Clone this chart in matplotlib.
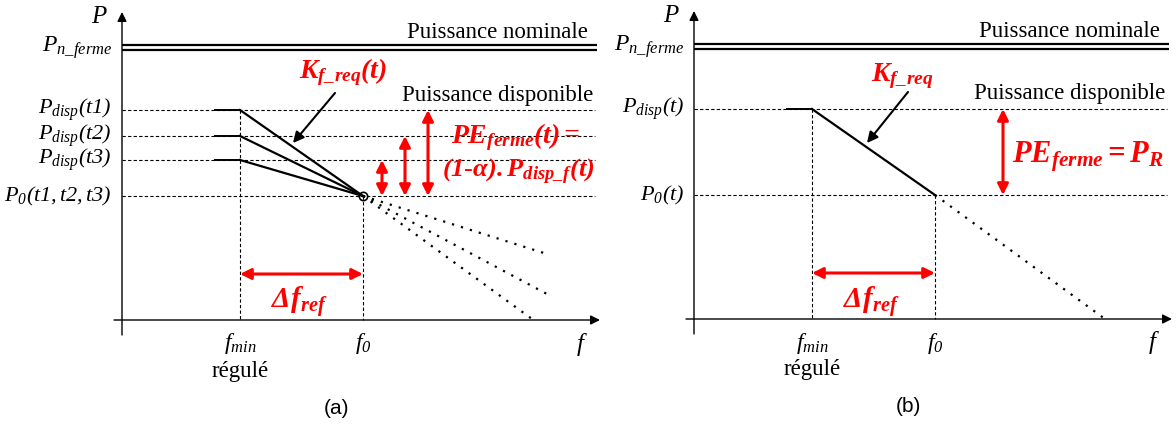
import matplotlib
matplotlib.use("Agg")
import matplotlib.pyplot as plt

plt.rcParams['font.family'] = ['Liberation Serif', 'DejaVu Serif']
plt.rcParams['mathtext.fontset'] = 'custom'
plt.rcParams['mathtext.rm'] = 'Liberation Serif:italic'
plt.rcParams['mathtext.it'] = 'Liberation Serif:italic'
plt.rcParams['mathtext.bf'] = 'Liberation Serif:bold:italic'

RED = '#ff0000'

# schematic values (f and P in drawing units, origin at the axes crossing)
f_min = 118
f_0 = 241
f_flat = 93          # start of the flat part before f_min
f_right = 473        # end of the horizontal reference lines
P_nom = [275, 270]   # double line "Puissance nominale"
P_0 = 124

# panel (a): three available powers
P_disp_a = [210, 184, 160]
labels_a = [r'$P_{disp}(t1)$', r'$P_{disp}(t2)$', r'$P_{disp}(t3)$']
end_f_a = [410, 425, 425]   # where the dotted extensions stop
end_P_a = [1, 26, 66]
arrow_f_a = [306, 283, 260]

# panel (b): one available power
P_disp_b = [210]
labels_b = [r'$P_{disp}(t)$']
end_f_b = [411]
end_P_b = [0]
arrow_f_b = [309]


def draw_panel(ax, P_disp, labels, end_f, end_P, arrow_f, p0_label, tag):
    ax.set_axis_off()
    # axes with arrows
    ax.annotate('', xy=(478, 0), xytext=(-8, 0),
                arrowprops=dict(arrowstyle='-|>', color='k', lw=1.0,
                                mutation_scale=14, shrinkA=0, shrinkB=0))
    ax.annotate('', xy=(0, 308), xytext=(0, -15),
                arrowprops=dict(arrowstyle='-|>', color='k', lw=1.0,
                                mutation_scale=14, shrinkA=0, shrinkB=0))
    ax.text(-23, 303, '$P$', fontsize=18, ha='center', va='center')
    ax.text(460, -24, '$f$', fontsize=18, ha='center', va='center')

    # nominal power double line
    for p in P_nom:
        ax.plot([0, f_right + 2], [p, p], color='k', lw=1.6, solid_capstyle='butt')
    ax.text(-10, 272, r'$P_{n\_ferme}$', fontsize=17, ha='right', va='center')
    ax.text(f_right - 7, 288, 'Puissance nominale', fontsize=16.5, ha='right', va='center')
    ax.text(f_right - 2, 225, 'Puissance disponible', fontsize=16.5, ha='right', va='center')

    # reference dashed lines
    for p, lab in zip(P_disp, labels):
        ax.plot([0, f_right], [p, p], color='k', lw=0.8, ls=(0, (3, 2)))
        ax.plot([f_flat, f_min], [p, p], color='k', lw=1.4)
        ax.text(-10, p, lab, fontsize=16, ha='right', va='center')
    ax.plot([0, f_right], [P_0, P_0], color='k', lw=0.8, ls=(0, (3, 2)))
    ax.text(-10, P_0, p0_label, fontsize=16, ha='right', va='center')
    ax.plot([f_min, f_min], [max(P_disp), 0], color='k', lw=0.8, ls=(0, (3, 2)))
    ax.plot([f_0, f_0], [P_0, 0], color='k', lw=0.8, ls=(0, (3, 2)))

    # droop lines and dotted extensions
    for p, fe, pe in zip(P_disp, end_f, end_P):
        ax.plot([f_min, f_0], [p, P_0], color='k', lw=1.6)
        ax.plot([f_0, fe], [P_0, pe], color='k', lw=1.6, ls=(0, (1, 3.2)))

    # red vertical arrows (reserve)
    for fa, p in zip(arrow_f, P_disp):
        ax.annotate('', xy=(fa, p), xytext=(fa, P_0),
                    arrowprops=dict(arrowstyle='<|-|>', color=RED, lw=2.2,
                                    mutation_scale=16, shrinkA=0, shrinkB=0))

    # delta f arrow
    ax.annotate('', xy=(f_min, 46), xytext=(f_0, 46),
                arrowprops=dict(arrowstyle='<|-|>', color=RED, lw=2.2,
                                mutation_scale=16, shrinkA=0, shrinkB=0))
    ax.text((f_min + f_0) / 2 - 2, 17, r'$\mathbf{\Delta f_{ref}}$', color=RED,
            fontsize=21, ha='center', va='center')

    ax.text(f_min, -24, r'$f_{min}$', fontsize=17, ha='center', va='center')
    ax.text(f_0, -24, r'$f_0$', fontsize=17, ha='center', va='center')
    ax.text(f_min, -51, 'régulé', fontsize=16.5, ha='center', va='center')
    ax.text((f_min + f_0) / 2 + 35, -88, tag, fontsize=15, ha='center', va='center',
            family='Liberation Sans')


fig = plt.figure(figsize=(11.76, 4.28), dpi=100)
ax_a = fig.add_axes([0, 0, 600 / 1176, 1])
ax_a.set_xlim(-122, 478)
ax_a.set_ylim(-108, 320)
ax_b = fig.add_axes([600 / 1176, 0, 576 / 1176, 1])
ax_b.set_xlim(-94, 482)
ax_b.set_ylim(-109, 319)

draw_panel(ax_a, P_disp_a, labels_a, end_f_a, end_P_a, arrow_f_a,
           r'$P_0(t1,t2,t3)$', '(a)')
draw_panel(ax_b, P_disp_b, labels_b, end_f_b, end_P_b, arrow_f_b,
           r'$P_0(t)$', '(b)')

# panel (a) annotations
ax_a.plot([f_0], [P_0], marker='o', ms=6, mfc='none', mec='k', mew=1.2)
ax_a.text(221, 248, r'$\mathbf{K_{f\_req}(t)}$', color=RED, fontsize=20,
          ha='center', va='center')
ax_a.annotate('', xy=(171, 177), xytext=(213, 227),
              arrowprops=dict(arrowstyle='-|>', color='k', lw=1.5,
                              mutation_scale=16, shrinkA=0, shrinkB=0))
ax_a.text(394, 183, r'$\mathbf{PE_{ferme}(t) =}$', color=RED, fontsize=20,
          ha='center', va='center')
ax_a.text(396, 148, r'$\mathbf{(1\text{-}\alpha).P_{disp\_f}(t)}$', color=RED,
          fontsize=19, ha='center', va='center')

# panel (b) annotations
ax_b.text(208, 243, r'$\mathbf{K_{f\_req}}$', color=RED, fontsize=20,
          ha='center', va='center')
ax_b.annotate('', xy=(173, 176), xytext=(214, 227),
              arrowprops=dict(arrowstyle='-|>', color='k', lw=1.5,
                              mutation_scale=16, shrinkA=0, shrinkB=0))
ax_b.text(394, 162, r'$\mathbf{PE_{ferme} = P_R}$', color=RED, fontsize=22,
          ha='center', va='center')

fig.savefig('out.png', dpi=100)
